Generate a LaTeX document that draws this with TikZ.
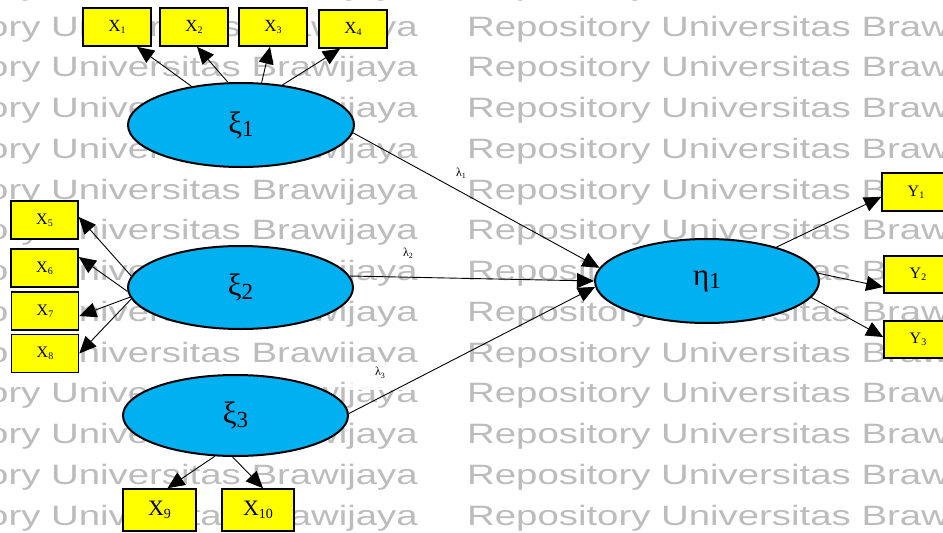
\documentclass[tikz,border=0pt]{standalone}
\usepackage{fontspec}
\setmainfont{Liberation Serif}
\newfontfamily\wmfont{Liberation Sans}
\usetikzlibrary{shapes.geometric,arrows.meta,calc}
\definecolor{latblue}{RGB}{0,176,240}
\definecolor{boxyellow}{RGB}{255,255,0}
\definecolor{wmgray}{RGB}{188,188,188}
\newcommand{\mylab}[4]{{\fontsize{#1}{#1}\selectfont #3\raisebox{-0.12em}{\fontsize{#2}{#2}\selectfont #4}}}
\begin{document}
\begin{tikzpicture}[x=1pt,y=-1pt,
  box/.style={draw, line width=1.6pt, fill=boxyellow, inner sep=0pt, minimum width=68pt, minimum height=38pt},
  lat/.style={ellipse, draw, line width=2pt, fill=latblue, inner sep=0pt, minimum width=225pt, minimum height=83pt},
  arr/.style={line width=0.9pt, -{Triangle[length=17pt,width=15pt]}},
  lam/.style={inner sep=0pt, font=\fontsize{12}{12}\selectfont},
  wm/.style={text=wmgray, inner sep=0pt, anchor=base west, font=\wmfont\fontsize{28}{28}\selectfont}]
\useasboundingbox (0,0) rectangle (943,533);
\clip (0,0) rectangle (943,533);
% watermark
\foreach \k in {-1,...,12}{
  \node[wm] (wl\k) at (-143,{36+40.75*\k}) {\scalebox{1.37}[1]{Repository Universitas Brawijaya}};
  \node[wm] (wr\k) at (467,{36+40.75*\k}) {\scalebox{1.37}[1]{Repository Universitas Brawijaya}};
}
% white patch behind lambda 3
\fill[white, opacity=0.85] (345,362) rectangle (417,390);
% observed boxes
\node[box] (x1) at (117,27) {\mylab{17}{10}{X}{1}};
\node[box] (x2) at (194,27) {\mylab{17}{10}{X}{2}};
\node[box] (x3) at (273,27) {\mylab{17}{10}{X}{3}};
\node[box] (x4) at (353,29) {\mylab{17}{10}{X}{4}};
\node[box, minimum width=67pt] (x5) at (44.5,220) {\mylab{16}{10}{X}{5}};
\node[box, minimum width=67pt] (x6) at (44.5,268) {\mylab{16}{10}{X}{6}};
\node[box, minimum width=67pt] (x7) at (45,311) {\mylab{16}{10}{X}{7}};
\node[box, minimum width=67pt] (x8) at (45,353.5) {\mylab{16}{10}{X}{8}};
\node[box, minimum width=73pt, minimum height=42pt] (x9) at (159.5,510) {\mylab{22}{14}{X}{9}};
\node[box, minimum width=72pt, minimum height=42pt] (x10) at (258,510) {\mylab{22}{14}{X}{10}};
\node[box] (y1) at (916,192) {\mylab{16}{10}{Y}{1}};
\node[box, minimum height=37pt] (y2) at (918,274.5) {\mylab{16}{10}{Y}{2}};
\node[box, minimum height=37pt] (y3) at (918,339.5) {\mylab{16}{10}{Y}{3}};
% latent variables
\node[lat, minimum width=226pt, minimum height=84pt] (xi1) at (241,125) {\mylab{31}{23}{ξ}{1}};
\node[lat] (xi2) at (240.5,287.5) {\mylab{31}{23}{ξ}{2}};
\node[lat, minimum height=81pt] (xi3) at (235.5,415.5) {\mylab{31}{23}{ξ}{3}};
\node[lat, minimum width=224pt, minimum height=84pt] (eta) at (707,281) {\mylab{31}{23}{η}{1}};
% loadings
\draw[arr] (xi1.142) -- ([xshift=20pt]x1.south);
\draw[arr] (xi1.107) -- ([xshift=3pt]x2.south);
\draw[arr] (xi1.64) -- ([xshift=-3pt]x3.south);
\draw[arr] (xi1.44) -- ([xshift=-13pt]x4.south);
\draw[arr] (xi2.174) -- ([yshift=3pt]x5.east);
\draw[arr] (xi2.182) -- ([yshift=11pt]x6.east);
\draw[arr] (xi2.185) -- ([yshift=-5pt]x7.east);
\draw[arr] (xi2.186) -- (x8.east);
\draw[arr] (xi3.243) -- ([xshift=8pt]x9.north);
\draw[arr] (xi3.266) -- ([xshift=5pt]x10.north);
\draw[arr] (eta.26) -- ([yshift=-5pt]y1.west);
\draw[arr] (eta.4) -- ([yshift=-12.5pt]y2.west);
\draw[arr] (eta.351) -- ([yshift=2.5pt]y3.west);
% structural paths
\draw[arr] (xi1.356) -- (eta.173);
\draw[arr] (xi2.6) -- (eta.180);
\draw[arr] (xi3.1) -- (eta.183);
% lambda labels
\node[lam] (l1) at (461,173) {λ\raisebox{-0.2em}{\fontsize{8}{8}\selectfont 1}};
\node[lam] (l2) at (408,253) {λ\raisebox{-0.2em}{\fontsize{8}{8}\selectfont 2}};
\node[lam] (l3) at (380,373) {λ\raisebox{-0.2em}{\fontsize{8}{8}\selectfont 3}};
\end{tikzpicture}
\end{document}
